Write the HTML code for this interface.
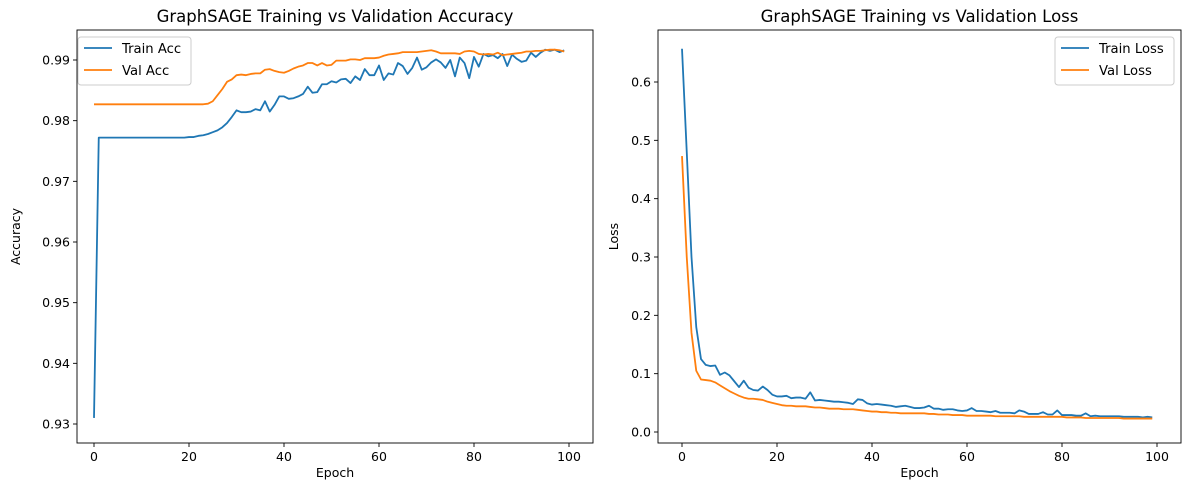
<!DOCTYPE html>
<html><head><meta charset="utf-8"><style>
body{margin:0;background:#fff;}
svg{display:block;font-family:"DejaVu Sans","Liberation Sans",sans-serif;}
</style></head><body>
<svg id="fig" width="1189" height="490" viewBox="0 0 1189 490" xmlns="http://www.w3.org/2000/svg"></svg>
<script>
const epochs = Array.from({length:100},(_, i)=>i);
const trainAcc = [0.931,0.9772,0.9772,0.9772,0.9772,0.9772,0.9772,0.9772,0.9772,0.9772,0.9772,0.9772,0.9772,0.9772,0.9772,0.9772,0.9772,0.9772,0.9772,0.9772,0.9773,0.9773,0.9775,0.9776,0.9778,0.9781,0.9784,0.9789,0.9796,0.9806,0.9817,0.9814,0.9814,0.9815,0.9819,0.9817,0.9832,0.9815,0.9826,0.9840,0.9840,0.9836,0.9837,0.9840,0.9844,0.9856,0.9846,0.9847,0.9860,0.9860,0.9865,0.9863,0.9868,0.9869,0.9862,0.9873,0.9867,0.9885,0.9875,0.9875,0.9891,0.9867,0.9878,0.9876,0.9895,0.9890,0.9877,0.9887,0.9904,0.9884,0.9888,0.9896,0.9901,0.9896,0.9887,0.9900,0.9873,0.9904,0.9895,0.9870,0.9905,0.9889,0.9910,0.9906,0.9908,0.9903,0.9910,0.9890,0.9909,0.9902,0.9897,0.9899,0.9912,0.9905,0.9912,0.9917,0.9915,0.9917,0.9913,0.9916];
const valAcc = [0.9827,0.9827,0.9827,0.9827,0.9827,0.9827,0.9827,0.9827,0.9827,0.9827,0.9827,0.9827,0.9827,0.9827,0.9827,0.9827,0.9827,0.9827,0.9827,0.9827,0.9827,0.9827,0.9827,0.9827,0.9828,0.9832,0.9842,0.9852,0.9864,0.9868,0.9875,0.9876,0.9875,0.9877,0.9878,0.9878,0.9884,0.9885,0.9882,0.9880,0.9879,0.9882,0.9886,0.9889,0.9891,0.9895,0.9895,0.9891,0.9895,0.9891,0.9892,0.9899,0.9899,0.9899,0.9901,0.9901,0.9900,0.9903,0.9903,0.9903,0.9904,0.9907,0.9909,0.9910,0.9911,0.9913,0.9913,0.9913,0.9913,0.9914,0.9915,0.9916,0.9914,0.9911,0.9911,0.9911,0.9911,0.9910,0.9914,0.9915,0.9914,0.9910,0.9909,0.9910,0.9909,0.9912,0.9908,0.9909,0.9910,0.9911,0.9912,0.9914,0.9914,0.9915,0.9915,0.9916,0.9917,0.9917,0.9916,0.9914];
const trainLoss = [0.657,0.48,0.30,0.18,0.125,0.115,0.113,0.114,0.098,0.102,0.097,0.087,0.077,0.088,0.076,0.072,0.071,0.078,0.072,0.064,0.061,0.061,0.062,0.058,0.059,0.059,0.057,0.068,0.054,0.055,0.054,0.053,0.052,0.052,0.051,0.050,0.048,0.056,0.055,0.049,0.047,0.048,0.047,0.046,0.045,0.043,0.044,0.045,0.043,0.041,0.041,0.042,0.045,0.040,0.040,0.038,0.039,0.039,0.037,0.036,0.037,0.041,0.036,0.036,0.035,0.034,0.036,0.033,0.033,0.033,0.032,0.037,0.035,0.031,0.031,0.031,0.034,0.030,0.030,0.037,0.029,0.029,0.029,0.028,0.028,0.032,0.027,0.028,0.027,0.027,0.027,0.027,0.027,0.026,0.026,0.026,0.026,0.025,0.026,0.025];
const valLoss = [0.473,0.30,0.17,0.105,0.090,0.089,0.088,0.085,0.080,0.075,0.070,0.066,0.062,0.059,0.057,0.057,0.056,0.055,0.052,0.050,0.048,0.046,0.045,0.045,0.044,0.044,0.044,0.043,0.042,0.042,0.041,0.040,0.040,0.040,0.039,0.039,0.039,0.038,0.037,0.036,0.035,0.035,0.034,0.034,0.033,0.033,0.032,0.032,0.032,0.032,0.032,0.032,0.031,0.031,0.030,0.030,0.030,0.029,0.029,0.029,0.028,0.028,0.028,0.028,0.028,0.028,0.027,0.027,0.027,0.027,0.027,0.027,0.026,0.026,0.026,0.026,0.026,0.026,0.026,0.026,0.026,0.025,0.025,0.025,0.025,0.024,0.024,0.024,0.024,0.024,0.024,0.024,0.024,0.023,0.023,0.023,0.023,0.023,0.023,0.023];
const xTicks = [0,20,40,60,80,100];
const accTicks = [0.93,0.94,0.95,0.96,0.97,0.98,0.99];
const lossTicks = [0.0,0.1,0.2,0.3,0.4,0.5,0.6];

const svg = document.getElementById('fig');
const NS = 'http://www.w3.org/2000/svg';
function mk(tag, attrs, parent){const e=document.createElementNS(NS,tag);for(const k in attrs)e.setAttribute(k,attrs[k]);(parent||svg).appendChild(e);return e;}

function panel(cfg){
  const g = mk('g',{});
  
  
  const X = v => cfg.x0 + (v - 0) * (cfg.x100 - cfg.x0) / 100;
  const Y = v => cfg.yA + (v - cfg.vA) * (cfg.yB - cfg.yA) / (cfg.vB - cfg.vA);
  xTicks.forEach(t=>{
    const l = mk('line',{x1:X(t),x2:X(t),y1:cfg.bottom,y2:cfg.bottom+4,stroke:'#000','stroke-width':0.9},g);
    
    
    const tx = mk('text',{x:X(t),y:cfg.bottom+18,'text-anchor':'middle','font-size':12.5,fill:'#000'},g);
    tx.textContent = t;
    
    
  });
  cfg.yTicks.forEach(t=>{
    const l = mk('line',{x1:cfg.left-4,x2:cfg.left,y1:Y(t),y2:Y(t),stroke:'#000','stroke-width':0.9},g);
    
    
    const tx = mk('text',{x:cfg.left-7,y:Y(t)+4.5,'text-anchor':'end','font-size':12.5,fill:'#000'},g);
    tx.textContent = t.toFixed(cfg.dec);
    
    
  });
  cfg.series.forEach(s=>{
    const d = s.data.map((v,i)=>(i?'L':'M')+X(epochs[i]).toFixed(2)+','+Y(v).toFixed(2)).join(' ');
    const p = mk('path',{d,fill:'none',stroke:s.color,'stroke-width':1.8,'stroke-linejoin':'round'},g);
    
    
  });
  const frame = mk('rect',{x:cfg.left,y:cfg.top,width:cfg.right-cfg.left,height:cfg.bottom-cfg.top,fill:'none',stroke:'#000','stroke-width':0.9},g);
  
  
  const title = mk('text',{x:(cfg.left+cfg.right)/2,y:cfg.top-8,'text-anchor':'middle','font-size':16.5,fill:'#000'},g);
  title.textContent = cfg.title;
  
  
  const xl = mk('text',{x:(cfg.left+cfg.right)/2,y:cfg.bottom+34,'text-anchor':'middle','font-size':12.5,fill:'#000'},g);
  xl.textContent = 'Epoch';
  
  
  const yl = mk('text',{x:cfg.ylx,y:(cfg.top+cfg.bottom)/2,'text-anchor':'middle','font-size':12.5,fill:'#000',transform:`rotate(-90 ${cfg.ylx} ${(cfg.top+cfg.bottom)/2})`},g);
  yl.textContent = cfg.ylabel;
  
  
  const lg = mk('g',{},g);
  
  
  mk('rect',{x:cfg.lx,y:cfg.ly,width:cfg.lw,height:48,rx:3,fill:'#fff','fill-opacity':0.8,stroke:'#ccc','stroke-width':1},lg);
  cfg.series.forEach((s,i)=>{
    const e = mk('g',{},lg);
    
    
    mk('line',{x1:cfg.lx+6,x2:cfg.lx+34,y1:cfg.ly+11+i*22,y2:cfg.ly+11+i*22,stroke:s.color,'stroke-width':1.8},e);
    const t = mk('text',{x:cfg.lx+44,y:cfg.ly+16+i*22,'font-size':13.2,fill:'#000'},e);
    t.textContent = s.label;
  });
}

panel({name:'accuracy-chart',title:'GraphSAGE Training vs Validation Accuracy',ylabel:'Accuracy',
  left:77,right:593,top:30,bottom:443,x0:94,x100:569,yA:424,vA:0.93,yB:60,vB:0.99,
  yTicks:accTicks,dec:2,ylx:20,lx:78,ly:37,lw:113,
  series:[{id:'train-acc-line',label:'Train Acc',color:'#1f77b4',data:trainAcc},{id:'val-acc-line',label:'Val Acc',color:'#ff7f0e',data:valAcc}]});
panel({name:'loss-chart',title:'GraphSAGE Training vs Validation Loss',ylabel:'Loss',
  left:658,right:1181,top:30,bottom:443,x0:682,x100:1157,yA:432,vA:0,yB:82,vB:0.6,
  yTicks:lossTicks,dec:1,ylx:618,lx:1055,ly:37,lw:119,
  series:[{id:'train-loss-line',label:'Train Loss',color:'#1f77b4',data:trainLoss},{id:'val-loss-line',label:'Val Loss',color:'#ff7f0e',data:valLoss}]});
</script>
</body></html>
